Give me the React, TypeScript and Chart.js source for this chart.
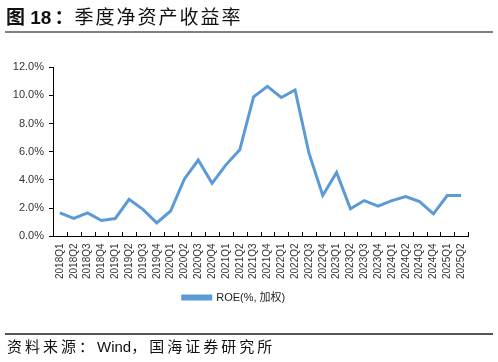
import React, { useEffect, useRef } from "react";
import { Chart, registerables } from "chart.js";

Chart.register(...registerables);

const categories = [
  "2018Q1","2018Q2","2018Q3","2018Q4",
  "2019Q1","2019Q2","2019Q3","2019Q4",
  "2020Q1","2020Q2","2020Q3","2020Q4",
  "2021Q1","2021Q2","2021Q3","2021Q4",
  "2022Q1","2022Q2","2022Q3","2022Q4",
  "2023Q1","2023Q2","2023Q3","2023Q4",
  "2024Q1","2024Q2","2024Q3","2024Q4",
  "2025Q1","2025Q2",
];

const roeValues = [
  1.67, 1.27, 1.67, 1.13,
  1.27, 2.63, 1.92, 0.96,
  1.80, 4.07, 5.41, 3.76,
  5.07, 6.13, 9.89, 10.63,
  9.84, 10.37, 5.91, 2.90,
  4.53, 1.96, 2.54, 2.15,
  2.54, 2.82, 2.46, 1.60,
  2.90, 2.90,
];

const seriesName = "ROE(%, 加权)";
const yMin = 0;
const yMax = 12;
const yStep = 2;

const LINE_COLOR = "#5B9BD5";
const FONT = "'Liberation Sans', Arial, 'Noto Sans CJK SC', sans-serif";

const innerTicks = {
  id: "innerTicks",
  afterDraw(chart: any) {
    const xs = chart.scales.x;
    const ctx = chart.ctx;
    const y = Math.round(xs.top);
    ctx.save();
    ctx.strokeStyle = "#000";
    ctx.lineWidth = 1;
    for (let i = 0; i <= categories.length; i++) {
      const px = Math.round(xs.getPixelForValue(i - 0.5)) + 0.5;
      ctx.beginPath();
      ctx.moveTo(px, y);
      ctx.lineTo(px, y - 4);
      ctx.stroke();
    }
    ctx.restore();
  },
};

export default function App() {
  const ref = useRef<HTMLCanvasElement | null>(null);

  useEffect(() => {
    if (!ref.current) return;
    const chart = new Chart(ref.current, {
      type: "line",
      data: {
        labels: categories,
        datasets: [
          {
            label: seriesName,
            data: roeValues,
            borderColor: LINE_COLOR,
            backgroundColor: LINE_COLOR,
            borderWidth: 3,
            pointRadius: 0,
            tension: 0,
            fill: false,
          },
        ],
      },
      options: {
        animation: false,
        responsive: true,
        maintainAspectRatio: false,
        layout: { padding: { left: 0, right: 30, top: 67, bottom: 49 } },
        plugins: {
          tooltip: { enabled: false },
          legend: {
            position: "bottom",
            labels: {
              boxWidth: 28,
              boxHeight: 3,
              padding: 6,
              color: "#222",
              font: { family: FONT, size: 11 },
            },
          },
        },
        scales: {
          x: {
            type: "category",
            offset: true,
            grid: { display: true, drawOnChartArea: false, drawTicks: false, offset: true, color: "#000" },
            border: { display: true, color: "#000", width: 1 },
            ticks: {
              autoSkip: false,
              maxRotation: 90,
              minRotation: 90,
              padding: 7,
              color: "#333",
              font: { family: FONT, size: 10 },
            },
          },
          y: {
            min: yMin,
            max: yMax,
            grid: { display: true, drawOnChartArea: false, drawTicks: true, tickLength: 4, color: "#000" },
            border: { display: true, color: "#000", width: 1 },
            ticks: {
              stepSize: yStep,
              padding: 5,
              color: "#333",
              font: { family: FONT, size: 11 },
              callback: (v: any) => Number(v).toFixed(1) + "%",
            },
            afterFit: (scale: any) => {
              scale.width = 53;
            },
          },
        },
      },
      plugins: [innerTicks],
    });
    return () => chart.destroy();
  }, []);

  return (
    <div style={{ position: "absolute", left: 0, top: 0, width: 498, height: 362, background: "#fff", overflow: "hidden" }}>
      <canvas ref={ref} style={{ position: "absolute", left: 0, top: 0, width: 498, height: 362 }} />
      <div
        style={{
          position: "absolute",
          left: 6,
          top: 4,
          whiteSpace: "nowrap",
          fontFamily: "'Liberation Sans', Arial, 'Noto Sans CJK SC', sans-serif",
          fontSize: 19,
          lineHeight: "24px",
          color: "#111",
        }}
      >
        <span style={{ fontWeight: "bold" }}>图 18</span>
        <span style={{ fontWeight: "bold", fontFamily: "'Noto Sans CJK SC', sans-serif", marginLeft: 3 }}>：</span>
        <span style={{ letterSpacing: 2, marginLeft: 1, fontFamily: "'Noto Sans CJK SC', sans-serif" }}>季度净资产收益率</span>
      </div>
      <div style={{ position: "absolute", left: 5, top: 31, width: 488, height: 2, background: "#808080" }} />
      <div style={{ position: "absolute", left: 5, top: 333, width: 488, height: 1.5, background: "#555" }} />
      <div
        style={{
          position: "absolute",
          left: 7,
          top: 336,
          whiteSpace: "nowrap",
          fontFamily: "'Liberation Sans', Arial, 'Noto Sans CJK SC', sans-serif",
          fontSize: 15,
          lineHeight: "22px",
          color: "#111",
          letterSpacing: 3,
        }}
      >
        资料来源：<span style={{ letterSpacing: 0 }}>Wind</span>，国海证券研究所
      </div>
    </div>
  );
}
